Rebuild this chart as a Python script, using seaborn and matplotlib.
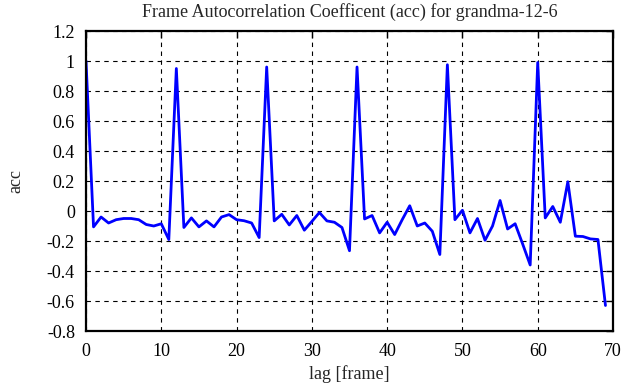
import numpy as np
import pandas as pd
import matplotlib.pyplot as plt
import seaborn as sns

# autocorrelation values, one per lag
lag = list(range(70))
acc = [1.0, -0.106, -0.04, -0.08, -0.058, -0.05, -0.05, -0.058, -0.09, -0.10,
       -0.085, -0.19, 0.95, -0.11, -0.046, -0.106, -0.066, -0.106, -0.04, -0.024,
       -0.058, -0.065, -0.08, -0.177, 0.96, -0.066, -0.022, -0.093, -0.03, -0.128,
       -0.07, -0.01, -0.066, -0.075, -0.11, -0.265, 0.96, -0.053, -0.03, -0.146,
       -0.075, -0.157, -0.058, 0.035, -0.10, -0.08, -0.135, -0.29, 0.975, -0.058,
       0.005, -0.146, -0.05, -0.195, -0.10, 0.07, -0.12, -0.085, -0.22, -0.36,
       0.99, -0.046, 0.03, -0.075, 0.195, -0.168, -0.17, -0.186, -0.19, -0.63]

xticks = [0, 10, 20, 30, 40, 50, 60, 70]
yticks = [-0.8, -0.6, -0.4, -0.2, 0, 0.2, 0.4, 0.6, 0.8, 1, 1.2]
ytick_labels = ['-0.8', '-0.6', '-0.4', '-0.2', '0', '0.2', '0.4', '0.6', '0.8', '1', '1.2']

df = pd.DataFrame({'lag': lag, 'acc': acc})

sns.set_style('white')
plt.rcParams['font.family'] = ['Liberation Serif', 'DejaVu Serif']
plt.rcParams['font.size'] = 13

fig = plt.figure(figsize=(6.35, 3.87), dpi=100)
ax = fig.add_axes([86/635, 1 - 331/387, (613 - 86)/635, 300/387])

sns.lineplot(data=df, x='lag', y='acc', ax=ax, color='#0000ff', linewidth=2.0)

ax.set_xlim(0, 70)
ax.set_ylim(-0.8, 1.2)
ax.set_xticks(xticks)
ax.set_yticks(yticks)
ax.set_yticklabels(ytick_labels)
ax.grid(True, color='black', linestyle=(0, (4, 4)), linewidth=0.8)
ax.tick_params(direction='in', length=5, width=1, top=True, right=True,
               colors='black', labelsize=13)
ax.tick_params(axis='x', pad=9)
ax.tick_params(axis='y', pad=8)
for s in ax.spines.values():
    s.set_color('black')
    s.set_linewidth(1.6)

ax.set_title('Frame Autocorrelation Coefficent (acc) for grandma-12-6', fontsize=13, pad=10)
ax.set_xlabel('lag [frame]', fontsize=13, labelpad=3)
ax.set_ylabel('acc', fontsize=13, labelpad=16)

fig.savefig('out.png', dpi=100)
